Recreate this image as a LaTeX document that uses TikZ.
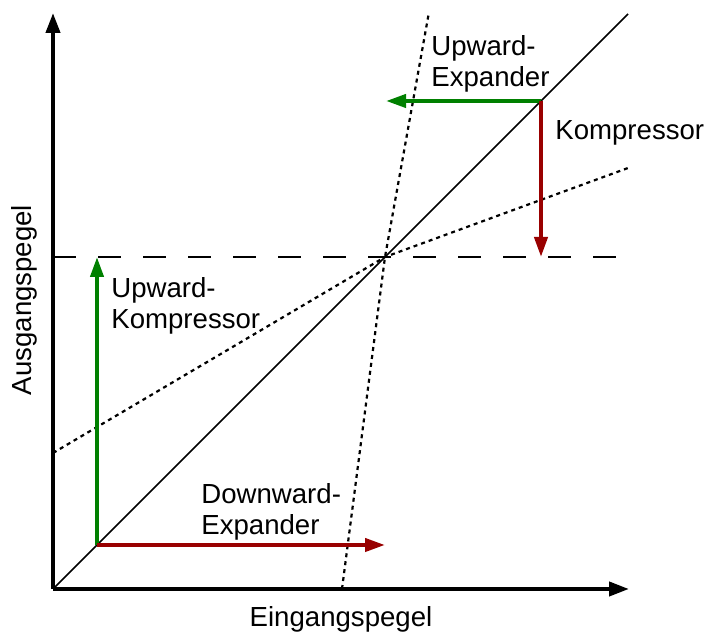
\documentclass[tikz,border=0pt]{standalone}
\usepackage{fontspec}
\setmainfont{Liberation Sans}
\usetikzlibrary{arrows.meta}
\definecolor{cGreen}{RGB}{0,128,0}
\definecolor{cRed}{RGB}{153,0,0}
\tikzset{
	axis/.style   ={-{Triangle[length=10pt,width=7pt]}, line width=2pt},
	ident/.style  ={line width=0.8pt},
	curve/.style  ={line width=1.1pt, dash pattern=on 2pt off 2pt},
	thresh/.style ={line width=1pt, dash pattern=on 11.25pt off 11.25pt},
	gain/.style   ={-{Triangle[length=10pt,width=6.5pt]}, line width=2pt},
	lbl/.style    ={anchor=north west, inner sep=0pt, align=left, font=\fontsize{13.8}{15.8}\selectfont},
}

\begin{document}
\begin{tikzpicture}[x=0.5pt, y=-0.5pt]
	\useasboundingbox (0,0) rectangle (708,635);
	% anchor points
	\coordinate (O) at (53,589);
	\coordinate (ytop) at (53,13);
	\coordinate (xend) at (629,589);
	\coordinate (idend) at (628,14);
	\coordinate (knee) at (385,257);
	\coordinate (thrL) at (53,257);
	\coordinate (thrR) at (616,257);
	\coordinate (cmpL) at (53,453);
	\coordinate (cmpR) at (628,168);
	\coordinate (expB) at (342,589);
	\coordinate (expT) at (429,12);
	\coordinate (low) at (97,545);
	\coordinate (lowup) at (97,257);
	\coordinate (lowright) at (385,545);
	\coordinate (high) at (541,101);
	\coordinate (highleft) at (386,101);
	\coordinate (highdown) at (541,257);
	% characteristic lines
	\draw[curve] (cmpL) -- (knee) -- (cmpR);
	\draw[curve] (expB) -- (knee) -- (expT);
	\draw[ident] (O) -- (idend);
	\draw[thresh] (thrL) -- (thrR);
	% gain changes
	\draw[gain, cGreen] (low) -- (lowup);
	\draw[gain, cRed] (low) -- (lowright);
	\draw[gain, cGreen] (high) -- (highleft);
	\draw[gain, cRed] (high) -- (highdown);
	% axes
	\draw[axis] (O) -- (ytop);
	\draw[axis] (O) -- (xend);
	% labels
	\node[lbl] (upexp) at (431,35) {Upward-\\Expander};
	\node[lbl] (comp) at (555,120) {Kompressor};
	\node[lbl] (upcomp) at (111,277) {Upward-\\Kompressor};
	\node[lbl] (downexp) at (201,483) {Downward-\\Expander};
	\node[anchor=base, inner sep=0pt, rotate=90, font=\fontsize{13.8}{15.8}\selectfont] (ylabel) at (32,300) {Ausgangspegel};
	\node[anchor=base, inner sep=0pt, font=\fontsize{13.8}{15.8}\selectfont] (xlabel) at (341,627) {Eingangspegel};
\end{tikzpicture}
\end{document}
